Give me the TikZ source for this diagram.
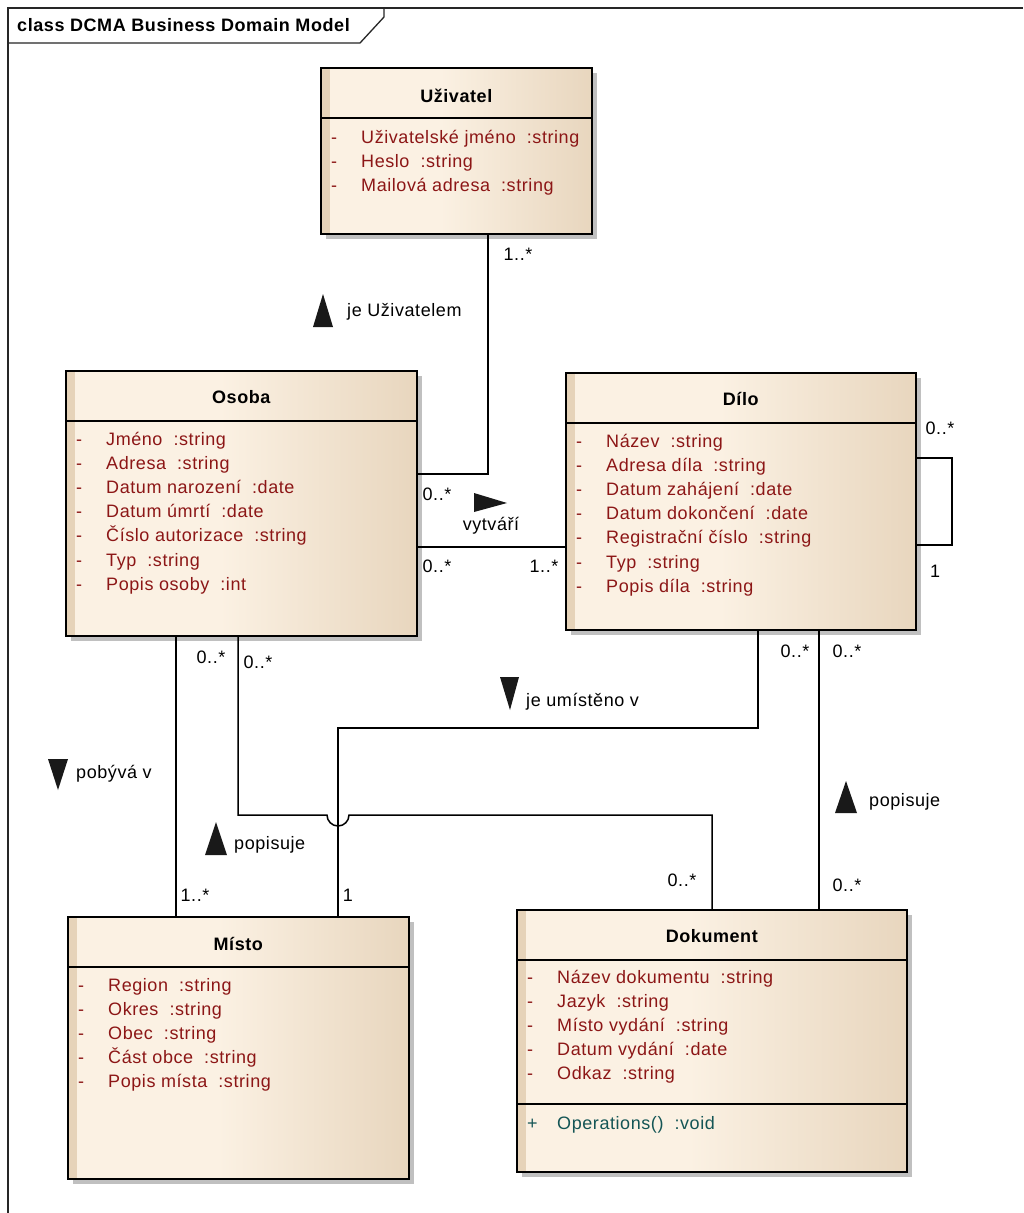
\documentclass[tikz,border=0pt]{standalone}
\usepackage{fontspec}
\usetikzlibrary{shadows,calc}
\newfontfamily\umlfont[LetterSpace=3.2]{Liberation Sans}

\definecolor{umlcream}{RGB}{251,241,227}
\definecolor{umltan}{RGB}{232,214,190}
\definecolor{umlstripe}{RGB}{230,211,185}
\definecolor{attrred}{RGB}{140,22,22}
\definecolor{operteal}{RGB}{20,85,85}
\definecolor{shadowgray}{RGB}{192,192,192}

% cream on the left half, warming to tan at the right edge
\pgfdeclarehorizontalshading{classfill}{100bp}{color(0bp)=(umlcream); color(25bp)=(umlcream); color(47bp)=(umlcream); color(75bp)=(umltan); color(100bp)=(umltan)}

\newcommand\tsep{\hspace{11pt}}

% attribute rows of a class box: #1 box name, #2 first baseline below the top, #3 entries
\newcommand\classrows[3]{%
  \foreach \entry [count=\i] in {#3} {
    \node[attrtext, anchor=base west] (#1-dash-\i) at ([xshift=11pt, yshift={-(#2pt+(\i-1)*24.2pt)}]#1.north west) {-};
    \node[attrtext, anchor=base west] (#1-attr-\i) at ([xshift=41pt, yshift={-(#2pt+(\i-1)*24.2pt)}]#1.north west) {\entry};
  }}

\tikzset{
  every node/.style={inner sep=0pt, font=\umlfont\fontsize{18}{21}\selectfont},
  classbox/.style={draw=black, line width=1.6pt, shade, shading=classfill,
    anchor=north west, inner sep=0pt,
    drop shadow={shadow xshift=5pt, shadow yshift=-5pt, fill=shadowgray, opacity=1},
    path picture={\fill[umlstripe] (path picture bounding box.north west) rectangle ([xshift=9pt]path picture bounding box.south west);}},
  sepline/.style={draw=black, line width=1.3pt},
  classtitle/.style={font=\umlfont\bfseries\fontsize{18}{21}\selectfont},
  attrtext/.style={text=attrred},
  opertext/.style={text=operteal},
  assoc/.style={draw=black, line width=1.5pt},
  dirmark/.style={fill=black!90},
  frameline/.style={draw=black!85, line width=1.3pt},
}

\begin{document}
\begin{tikzpicture}[x=1pt,y=-1pt]
\useasboundingbox (0,0) rectangle (1023,1213);
\fill[white] (0,0) rectangle (1023,1213);

% diagram frame with its name tab
\draw[frameline] (8,1213) -- (8,8) -- (1023,8);
\draw[frameline] (8,43) -- (360,43) -- (384,17) -- (384,8);
\node[classtitle, anchor=west] (frametitle) at (17,25) {class DCMA Business Domain Model};

% class boxes
\node[classbox, minimum width=271pt, minimum height=166pt] (uziv) at (320,67) {};
\node[classbox, minimum width=351pt, minimum height=265pt] (osoba) at (65,370) {};
\node[classbox, minimum width=350pt, minimum height=257pt] (dilo) at (565,372) {};
\node[classbox, minimum width=341pt, minimum height=262pt] (misto) at (67,916) {};
\node[classbox, minimum width=390pt, minimum height=262pt] (dok) at (516,909) {};

% compartment separators
\foreach \b in {uziv,osoba,dilo,misto,dok}
  \draw[sepline] ([yshift=-51pt]\b.north west) -- ([yshift=-51pt]\b.north east);
\draw[sepline] ([yshift=-195pt]dok.north west) -- ([yshift=-195pt]dok.north east);

% class names
\node[classtitle] (uziv-title) at ([yshift=-29pt]uziv.north) {Uživatel};
\node[classtitle] (osoba-title) at ([yshift=-27pt]osoba.north) {Osoba};
\node[classtitle] (dilo-title) at ([yshift=-27pt]dilo.north) {Dílo};
\node[classtitle] (misto-title) at ([yshift=-28pt]misto.north) {Místo};
\node[classtitle] (dok-title) at ([yshift=-27pt]dok.north) {Dokument};

% attributes
\classrows{uziv}{76}{Uživatelské jméno\tsep:string, Heslo\tsep:string, Mailová adresa\tsep:string}
\classrows{osoba}{75}{Jméno\tsep:string, Adresa\tsep:string, Datum narození\tsep:date, Datum úmrtí\tsep:date, Číslo autorizace\tsep:string, Typ\tsep:string, Popis osoby\tsep:int}
\classrows{dilo}{75}{Název\tsep:string, Adresa díla\tsep:string, Datum zahájení\tsep:date, Datum dokončení\tsep:date, Registrační číslo\tsep:string, Typ\tsep:string, Popis díla\tsep:string}
\classrows{misto}{75}{Region\tsep:string, Okres\tsep:string, Obec\tsep:string, Část obce\tsep:string, Popis místa\tsep:string}
\classrows{dok}{74}{Název dokumentu\tsep:string, Jazyk\tsep:string, Místo vydání\tsep:string, Datum vydání\tsep:date, Odkaz\tsep:string}

% operations
\node[opertext, anchor=base west] (dok-plus) at ([xshift=11pt, yshift=-220pt]dok.north west) {+};
\node[opertext, anchor=base west] (dok-oper) at ([xshift=41pt, yshift=-220pt]dok.north west) {Operations()\tsep:void};

% associations
\draw[assoc] (uziv.south -| 488,0) -- (488,474) -- (osoba.east |- 0,474);
\draw[assoc] (osoba.east |- 0,547) -- (dilo.west |- 0,547);
\draw[assoc] (dilo.east |- 0,458) -- (952,458) -- (952,545) -- (dilo.east |- 0,545);
\draw[assoc] (osoba.south -| 176,0) -- (misto.north -| 176,0);
\draw[assoc] (osoba.south -| 238,0) -- (238,815) -- (327,815)
  arc[start angle=180, end angle=360, radius=11pt] -- (712,815) -- (dok.north -| 712,0);
\draw[assoc] (dilo.south -| 758,0) -- (758,728) -- (338,728) -- (misto.north -| 338,0);
\draw[assoc] (dilo.south -| 819,0) -- (dok.north -| 819,0);

% multiplicities
\node (m-uziv) at (518,254) {1..*};
\node (m-osoba-u) at (437,494) {0..*};
\node (m-osoba-d) at (437,566) {0..*};
\node (m-dilo-o) at (544,566) {1..*};
\node (m-self-a) at (940,428) {0..*};
\node (m-self-b) at (935,571) {1};
\node (m-osoba-m) at (211,657) {0..*};
\node (m-osoba-k) at (258,662) {0..*};
\node (m-dilo-m) at (795,651) {0..*};
\node (m-dilo-k) at (847,651) {0..*};
\node (m-misto-o) at (195,895) {1..*};
\node (m-misto-d) at (348,895) {1};
\node (m-dok-o) at (682,880) {0..*};
\node (m-dok-d) at (847,885) {0..*};

% association names with direction marks
\fill[dirmark] (313,327) -- (333,327) -- (323,294) -- cycle;
\node[anchor=west] (n-uziv) at (347,312) {je Uživatelem};
\fill[dirmark] (474,493) -- (474,512) -- (507,503) -- cycle;
\node (n-vytvari) at (491,526) {vytváří};
\fill[dirmark] (500,677) -- (519,677) -- (510,710) -- cycle;
\node[anchor=west] (n-umisteno) at (526,702) {je umístěno v};
\fill[dirmark] (48,759) -- (68,759) -- (58,790) -- cycle;
\node[anchor=west] (n-pobyva) at (76,774) {pobývá v};
\fill[dirmark] (205,855) -- (227,855) -- (216,822) -- cycle;
\node[anchor=west] (n-popis-o) at (234,845) {popisuje};
\fill[dirmark] (835,813) -- (857,813) -- (846,781) -- cycle;
\node[anchor=west] (n-popis-d) at (869,802) {popisuje};
\end{tikzpicture}
\end{document}
